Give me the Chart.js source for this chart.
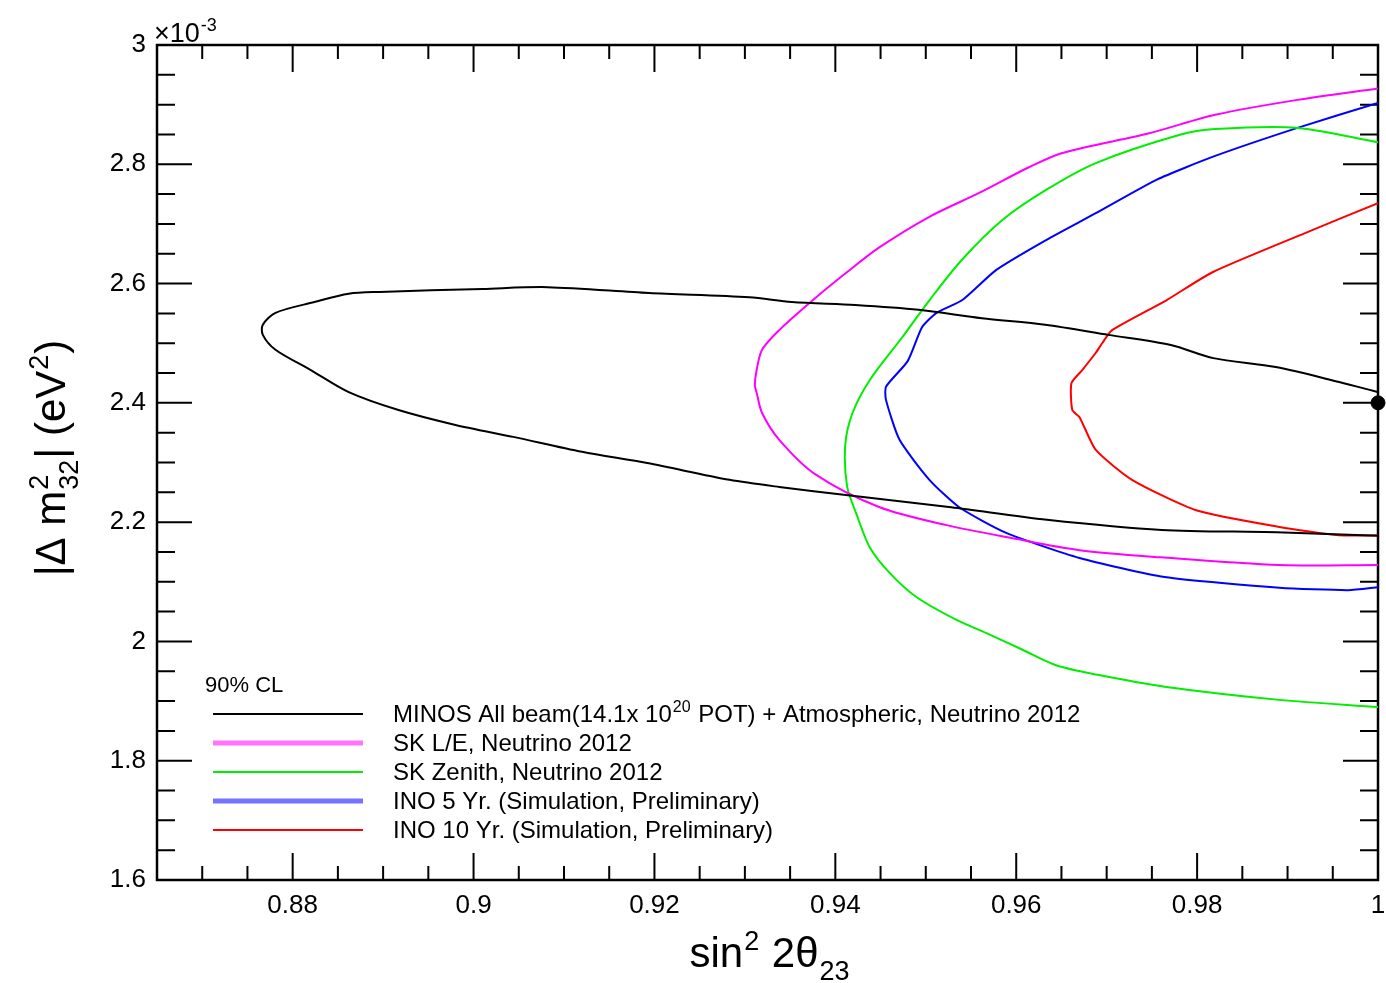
<!DOCTYPE html>
<html>
<head>
<meta charset="utf-8">
<script src="https://cdn.jsdelivr.net/npm/chart.js@4.4.1/dist/chart.umd.min.js"></script>
<style>
html, body { margin: 0; padding: 0; background: #fff; }
</style>
</head>
<body>
<canvas id="contours" width="1386" height="983"></canvas>
<script>
// 90% CL allowed regions, sin^2(2 theta23) vs |dm2_32| (in units of 1e-3 eV^2)
var minosAll = [
  [1.0, 2.418], [0.9957, 2.435], [0.9887, 2.460], [0.9818, 2.475], [0.9771, 2.497],
  [0.9702, 2.514], [0.9632, 2.531], [0.9562, 2.542], [0.9492, 2.556], [0.9422, 2.564],
  [0.9352, 2.569], [0.9305, 2.577], [0.9194, 2.584], [0.9082, 2.594], [0.9010, 2.591],
  [0.8896, 2.586], [0.8862, 2.583], [0.8824, 2.569], [0.8781, 2.551], [0.8767, 2.531],
  [0.8767, 2.514], [0.8781, 2.489], [0.8820, 2.455], [0.8862, 2.418], [0.8917, 2.388],
  [0.8980, 2.363], [0.9044, 2.343], [0.9120, 2.318], [0.9192, 2.299], [0.9283, 2.271],
  [0.9338, 2.259], [0.9414, 2.245], [0.9528, 2.225], [0.9634, 2.204], [0.9761, 2.187],
  [0.9888, 2.183], [1.0, 2.177]
];
var skLE = [
  [1.0, 2.927], [0.9911, 2.908], [0.9820, 2.883], [0.9747, 2.852], [0.9651, 2.819],
  [0.9614, 2.795], [0.9559, 2.752], [0.9504, 2.712], [0.9449, 2.661], [0.9412, 2.618],
  [0.9375, 2.572], [0.9338, 2.522], [0.9319, 2.489], [0.9313, 2.455], [0.9311, 2.430],
  [0.9313, 2.417], [0.9319, 2.383], [0.9338, 2.338], [0.9378, 2.280],
  [0.9449, 2.225], [0.9523, 2.195], [0.9596, 2.173], [0.9670, 2.153], [0.9760, 2.141],
  [0.9891, 2.128], [1.0, 2.128]
];
var skZenith = [
  [1.0, 2.837], [0.9911, 2.861], [0.9820, 2.859], [0.9780, 2.849], [0.9688, 2.802],
  [0.9633, 2.757], [0.9585, 2.707], [0.9540, 2.640], [0.9504, 2.572], [0.9474, 2.510],
  [0.9438, 2.438], [0.9419, 2.383], [0.9411, 2.330], [0.9413, 2.260], [0.9423, 2.215],
  [0.9438, 2.158], [0.9460, 2.115], [0.9490, 2.074], [0.9534, 2.036], [0.9567, 2.014],
  [0.9607, 1.986], [0.9644, 1.960], [0.9690, 1.944], [0.9764, 1.924], [0.9891, 1.902],
  [1.0, 1.890]
];
var ino5yr = [
  [1.0, 2.903], [0.9911, 2.861], [0.9820, 2.814], [0.9755, 2.774], [0.9688, 2.718],
  [0.9633, 2.673], [0.9578, 2.623], [0.9540, 2.572], [0.9512, 2.551], [0.9496, 2.527],
  [0.9480, 2.470], [0.9456, 2.427], [0.9456, 2.405], [0.9471, 2.338], [0.9504, 2.271],
  [0.9537, 2.225], [0.9589, 2.182], [0.9670, 2.140], [0.9764, 2.108], [0.9891, 2.090],
  [0.9967, 2.086], [1.0, 2.091]
];
var ino10yr = [
  [1.0, 2.735], [0.9920, 2.685], [0.9817, 2.619], [0.9766, 2.572], [0.9706, 2.522],
  [0.9695, 2.500], [0.9688, 2.484], [0.9673, 2.455], [0.9661, 2.433], [0.9662, 2.388],
  [0.9670, 2.376], [0.9688, 2.321], [0.9728, 2.271], [0.9799, 2.220], [0.9891, 2.192],
  [0.9957, 2.178], [1.0, 2.178]
];
var bestFit = [[1.0, 2.40]];

var legendLabels = [
  'MINOS All beam(14.1x 10^{20} POT) + Atmospheric, Neutrino 2012',
  'SK L/E, Neutrino 2012',
  'SK Zenith, Neutrino 2012',
  'INO 5 Yr. (Simulation, Preliminary)',
  'INO 10 Yr. (Simulation, Preliminary)'
];
var xTicks = [0.88, 0.90, 0.92, 0.94, 0.96, 0.98, 1.0];
var yTicks = [1.6, 1.8, 2.0, 2.2, 2.4, 2.6, 2.8, 3.0];

var FONT = '"Liberation Sans", Arial, Helvetica, sans-serif';
var colours = ['#000000', '#ff00ff', '#00ee00', '#0000ff', '#ff0000'];

function pts(arr) {
  return arr.map(function (p) { return { x: p[0], y: p[1] }; });
}

function contour(i, arr, tension) {
  return {
    label: legendLabels[i],
    data: pts(arr),
    showLine: true,
    borderColor: colours[i],
    borderWidth: 2,
    pointRadius: 0,
    tension: tension,
    fill: false
  };
}

// text with ROOT-like ^{..} and _{..}; a ^{} directly followed by _{} is stacked
function drawRich(ctx, text, x, y, size, align) {
  var parts = text.split(/(\^\{[^}]*\}|_\{[^}]*\})/).filter(Boolean).map(function (p) {
    if (p.charAt(0) === '^') return { k: 'sup', s: p.slice(2, -1) };
    if (p.charAt(0) === '_') return { k: 'sub', s: p.slice(2, -1) };
    return { k: 'txt', s: p };
  });
  var big = size + 'px ' + FONT;
  var small = Math.round(size * 0.65) + 'px ' + FONT;
  var runs = [], cx = 0;
  for (var i = 0; i < parts.length; i++) {
    var p = parts[i];
    if (p.k === 'txt') {
      ctx.font = big;
      runs.push({ s: p.s, f: big, x: cx, dy: 0 });
      cx += ctx.measureText(p.s).width;
    } else {
      ctx.font = small;
      var w = ctx.measureText(p.s).width;
      runs.push({ s: p.s, f: small, x: cx + 1, dy: p.k === 'sup' ? -0.4 * size : 0.32 * size });
      var n = parts[i + 1];
      if (p.k === 'sup' && n && n.k === 'sub') {
        runs.push({ s: n.s, f: small, x: cx + 1, dy: 0.32 * size });
        w = Math.max(w, ctx.measureText(n.s).width);
        i++;
      }
      cx += w + 2;
    }
  }
  var x0 = align === 'center' ? x - cx / 2 : x;
  ctx.textAlign = 'left';
  ctx.textBaseline = 'alphabetic';
  runs.forEach(function (r) {
    ctx.font = r.f;
    ctx.fillText(r.s, x0 + r.x, y + r.dy);
  });
}

// frame with inward ticks on all four sides
var framePlugin = {
  id: 'frame',
  beforeDatasetsDraw: function (chart) {
    var ctx = chart.ctx, a = chart.chartArea, xs = chart.scales.x, ys = chart.scales.y;
    ctx.save();
    ctx.strokeStyle = '#000';
    ctx.lineWidth = 2;
    ctx.beginPath();
    var k, px, py, len;
    for (k = 173; k <= 200; k++) {           // every 0.005 in sin^2
      px = xs.getPixelForValue(k / 200);
      len = (k % 4 === 0) ? 27 : 14;
      ctx.moveTo(px, a.bottom); ctx.lineTo(px, a.bottom - len);
      ctx.moveTo(px, a.top); ctx.lineTo(px, a.top + len);
    }
    for (k = 32; k <= 60; k++) {             // every 0.05e-3 in dm2
      py = ys.getPixelForValue(k / 20);
      len = (k % 4 === 0) ? 35 : 18;
      ctx.moveTo(a.left, py); ctx.lineTo(a.left + len, py);
      ctx.moveTo(a.right, py); ctx.lineTo(a.right - len, py);
    }
    ctx.stroke();
    ctx.lineWidth = 2.5;
    ctx.strokeRect(a.left, a.top, a.right - a.left, a.bottom - a.top);
    ctx.restore();
  },
  afterDraw: function (chart) {
    var ctx = chart.ctx, a = chart.chartArea;
    ctx.save();
    ctx.fillStyle = '#000';

    // axis multiplier
    drawRich(ctx, '\u00d710^{-3}', a.left - 3, 42, 27, 'left');

    // axis titles
    drawRich(ctx, 'sin^{2} 2\u03b8_{23}', 770, 967, 42, 'center');
    ctx.save();
    ctx.translate(65, 458);
    ctx.rotate(-Math.PI / 2);
    drawRich(ctx, '|\u0394 m^{2}_{32}| (eV^{2})', 0, 0, 42, 'center');
    ctx.restore();

    // legend
    drawRich(ctx, '90% CL', 205, 692, 22, 'left');
    var lineW = [2, 5, 2, 5, 2];
    var alpha = [1, 0.55, 1, 0.55, 1];
    chart.data.datasets.forEach(function (ds, i) {
      if (i >= legendLabels.length) return;
      var yc = 714 + i * 29;
      ctx.save();
      ctx.globalAlpha = alpha[i];
      ctx.strokeStyle = ds.borderColor;
      ctx.lineWidth = lineW[i];
      ctx.beginPath();
      ctx.moveTo(213, yc);
      ctx.lineTo(363, yc);
      ctx.stroke();
      ctx.restore();
      drawRich(ctx, ds.label, 393, yc + 8, 24, 'left');
    });
    ctx.restore();
  }
};

var ctx = document.getElementById('contours');
var chart = new Chart(ctx, {
  type: 'scatter',
  data: {
    datasets: [
      contour(0, minosAll, 0.3),
      contour(1, skLE, 0.3),
      contour(2, skZenith, 0.3),
      contour(3, ino5yr, 0.2),
      contour(4, ino10yr, 0.2),
      {
        label: 'best fit',
        data: pts(bestFit),
        pointRadius: 7,
        pointHoverRadius: 7,
        backgroundColor: '#000',
        borderColor: '#000',
        clip: false
      }
    ]
  },
  options: {
    responsive: false,
    animation: false,
    events: [],
    layout: { padding: { left: 0, top: 45, right: 3, bottom: 0 } },
    plugins: {
      legend: { display: false },
      tooltip: { enabled: false }
    },
    scales: {
      x: {
        type: 'linear',
        min: 0.865,
        max: 1.0,
        grid: { display: false, drawTicks: false },
        border: { display: false },
        afterBuildTicks: function (s) { s.ticks = xTicks.map(function (v) { return { value: v }; }); },
        afterFit: function (s) { s.height = 103; s.paddingLeft = 0; s.paddingRight = 0; },
        ticks: {
          padding: 10,
          color: '#000',
          maxRotation: 0,
          autoSkip: false,
          font: { family: FONT, size: 26 },
          callback: function (v) { return String(+v.toFixed(2)); }
        }
      },
      y: {
        type: 'linear',
        min: 1.6,
        max: 3.0,
        grid: { display: false, drawTicks: false },
        border: { display: false },
        afterBuildTicks: function (s) { s.ticks = yTicks.map(function (v) { return { value: v }; }); },
        afterFit: function (s) { s.width = 157; s.paddingTop = 0; s.paddingBottom = 0; },
        ticks: {
          padding: 11,
          color: '#000',
          autoSkip: false,
          font: { family: FONT, size: 26 },
          callback: function (v) { return String(+v.toFixed(1)); }
        }
      }
    }
  },
  plugins: [framePlugin]
});
</script>
</body>
</html>
